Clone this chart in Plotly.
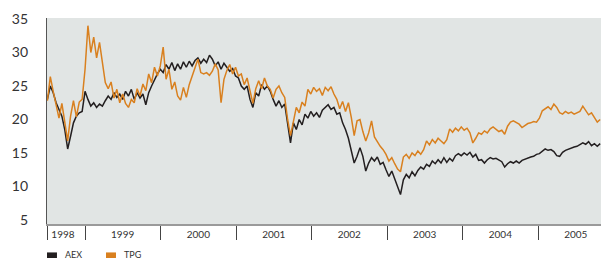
import pandas as pd
import plotly.graph_objects as go

# biweekly observations starting 1998-07-03
start_date = "1998-07-03"
aex = [23.0, 25.0, 24.0, 22.5, 21.5, 20.5, 18.5, 15.6, 17.5, 19.5, 20.5, 21.0, 21.2,
       24.2, 23.0, 22.0, 22.5, 21.8, 22.3, 22.0, 22.8, 23.5, 23.0, 24.0, 23.3, 23.8, 23.0,
       24.2, 23.5, 24.5, 23.0, 24.0, 23.2, 23.8, 22.2, 24.0, 25.0, 26.0, 26.8,
       27.5, 27.0, 28.2, 27.5, 28.5, 27.3, 28.3, 27.5, 28.6, 27.8, 28.7, 28.0, 28.8,
       29.2, 28.4, 29.0, 28.5, 29.6, 29.0, 28.0, 28.6, 27.5, 28.4, 27.8, 27.2, 27.6,
       26.5, 26.2, 25.0, 24.5, 25.0, 23.0, 21.8, 24.0, 23.5, 25.2, 24.5, 25.0, 24.2,
       23.0, 22.0, 22.8, 21.8, 22.3, 19.0, 16.5, 19.5, 18.5, 20.0, 19.2, 20.8, 20.2,
       21.2, 20.5, 21.0, 20.3, 21.4, 21.8, 22.2, 21.5, 21.8, 20.8, 21.0, 19.5, 18.5,
       17.2, 15.5, 13.5, 14.5, 15.8, 14.5, 12.3, 13.5, 14.3, 13.8, 14.4, 13.3, 13.6,
       12.5, 11.5, 12.3, 11.2, 10.0, 8.8, 11.0, 11.8, 11.3, 12.2, 11.6, 12.4, 12.9,
       12.6, 13.3, 13.0, 13.8, 13.4, 14.0, 13.5, 14.3, 13.6, 14.2, 13.8, 14.6, 14.9,
       14.6, 15.0, 14.7, 15.1, 14.4, 14.8, 13.9, 14.0, 13.5, 14.0, 14.3, 14.1, 14.2,
       14.0, 13.7, 12.9, 13.4, 13.7, 13.5, 13.8, 13.5, 13.9, 14.1, 14.2, 14.4, 14.5,
       14.8, 14.9, 15.3, 15.6, 15.4, 15.5, 15.2, 14.6, 14.5, 15.1, 15.4, 15.6, 15.8,
       15.9, 16.0, 16.2, 16.5, 16.3, 16.7, 16.1, 16.4, 16.0, 16.4]
tpg = [22.8, 26.4, 24.2, 22.0, 20.2, 22.4, 19.5, 16.8, 20.5, 22.8, 20.4, 22.6, 23.0,
       27.5, 34.0, 30.0, 32.3, 29.2, 31.5, 28.2, 25.5, 24.6, 25.6, 23.2, 24.5, 22.5, 23.8,
       22.4, 21.8, 23.0, 22.5, 24.6, 23.5, 25.3, 24.3, 26.8, 25.5, 27.8, 26.5,
       28.0, 30.8, 26.0, 27.5, 24.5, 25.6, 23.5, 22.9, 24.8, 23.3, 25.2, 26.5, 27.8,
       29.0, 27.0, 26.8, 27.0, 26.6, 27.2, 28.3, 27.4, 22.5, 26.0, 27.3, 28.2, 26.8,
       27.8, 26.5, 26.8, 25.2, 26.2, 24.2, 22.4, 24.6, 25.8, 24.6, 26.2, 25.0, 24.5,
       23.2, 24.5, 25.0, 24.0, 23.3, 20.0, 17.6, 19.5, 21.8, 21.0, 22.6, 22.0, 24.5,
       23.8, 24.8, 24.2, 24.6, 23.6, 24.8, 24.3, 24.9, 23.8, 23.0, 21.6, 22.7, 21.2,
       22.5, 20.3, 17.6, 19.8, 20.0, 18.2, 16.8, 18.0, 19.8, 17.4, 16.6, 16.0, 15.5,
       14.8, 13.8, 14.3, 13.4, 12.6, 12.2, 14.4, 14.8, 14.2, 15.0, 14.6, 15.3, 14.8,
       15.5, 16.8, 16.2, 17.0, 16.5, 17.2, 16.8, 16.4, 17.0, 18.6, 18.1, 18.7, 18.3,
       18.9, 18.4, 18.7, 18.0, 16.5, 17.2, 18.0, 17.8, 18.3, 18.0, 18.6, 18.9, 18.5,
       18.2, 18.4, 17.8, 19.0, 19.6, 19.8, 19.5, 19.3, 18.8, 19.1, 19.4, 19.5, 19.7,
       19.6, 20.2, 21.3, 21.6, 21.9, 21.5, 22.3, 21.8, 21.0, 20.8, 21.2, 20.9, 21.1,
       20.8, 21.0, 21.2, 22.0, 21.3, 20.7, 21.0, 20.3, 19.6, 20.0]
years = [1998, 1999, 2000, 2001, 2002, 2003, 2004, 2005]
y_ticks = [5, 10, 15, 20, 25, 30, 35]
series_names = ["AEX", "TPG"]
series_colors = ["#231f20", "#d9801f"]

dates = pd.date_range(start_date, periods=len(aex), freq="14D")

fig = go.Figure()
for name, vals, col in zip(series_names, [aex, tpg], series_colors):
    fig.add_trace(go.Scatter(x=dates, y=vals, mode="lines", name=name,
                             line=dict(color=col, width=1.5), showlegend=False))

x0 = "1998-07-01"
x1 = "2005-11-01"
label_pos = ["1998-09-16"] + [f"{y}-07-02" for y in years[1:]]
sep_pos = [x0] + [f"{y}-01-01" for y in years[1:]]

fig.update_layout(
    width=601, height=259,
    margin=dict(l=47, r=0, t=18, b=35),
    paper_bgcolor="white", plot_bgcolor="#e1e5e4",
    font=dict(family="Lato, 'Open Sans', sans-serif", color="#333"),
    xaxis=dict(type="date", range=[x0, x1], showgrid=False, zeroline=False,
               showline=True, linecolor="#9a9a9a", linewidth=1.5,
               tickmode="array", tickvals=label_pos, ticktext=[str(y) for y in years],
               ticks="", tickfont=dict(size=10, color="#333"),
               minor=dict(tickmode="array", tickvals=sep_pos, ticks="outside",
                          ticklen=14, tickcolor="#444", tickwidth=1, showgrid=False)),
    yaxis=dict(range=[4.4, 35.15], tickvals=y_ticks, showgrid=False, zeroline=False,
               showline=True, linecolor="#555", linewidth=1.2,
               ticks="", tickfont=dict(size=14, color="#333"), ticklabelstandoff=15),
    showlegend=False,
)

# legend drawn as swatches + text below the plot
leg_x = [0.0, 0.1065]
for name, col, lx in zip(series_names, series_colors, leg_x):
    fig.add_shape(type="rect", xref="paper", yref="paper",
                  x0=lx, x1=lx + 0.018, y0=-0.138, y1=-0.165,
                  fillcolor=col, line=dict(width=0))
    fig.add_annotation(xref="paper", yref="paper", x=lx + 0.030, y=-0.150,
                       text=name, showarrow=False, xanchor="left", yanchor="middle",
                       borderpad=0, font=dict(size=9, color="#333"))

fig.write_html("out.html", config={"displayModeBar": False},
               post_script="document.body.style.margin='0';document.body.style.overflow='hidden';")
